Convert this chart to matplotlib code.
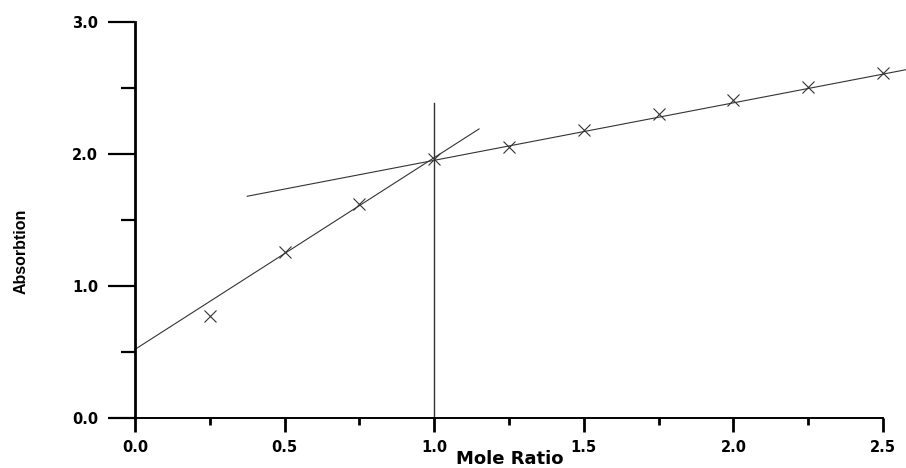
import numpy as np
from matplotlib import pyplot as plt

# Measured points (mole ratio vs absorbtion)
mole_ratio = [0.25, 0.5, 0.75, 1.0, 1.25, 1.5, 1.75, 2.0, 2.25, 2.5]
absorb = [0.77, 1.26, 1.62, 1.96, 2.05, 2.18, 2.30, 2.41, 2.51, 2.61]

# Hand-drawn fit lines (end points)
line1_x = [0.0, 1.15]
line1_y = [0.52, 2.19]
line2_x = [0.375, 2.58]
line2_y = [1.68, 2.64]
# Vertical line at the break point
vline_x = [1.0, 1.0]
vline_y = [0.0, 2.39]

xticks = [0.0, 0.5, 1.0, 1.5, 2.0, 2.5]
yticks = [0.0, 1.0, 2.0, 3.0]

fig = plt.figure(figsize=(9.06, 4.68), dpi=100)
ax = fig.add_axes([0.149, 0.1068, 0.8256, 0.8462])

lc = '#333333'
ax.plot(line1_x, line1_y, color=lc, lw=0.8, clip_on=False)
ax.plot(line2_x, line2_y, color=lc, lw=0.8, clip_on=False)
ax.plot(vline_x, vline_y, color=lc, lw=1.0, clip_on=False)
ax.plot(mole_ratio, absorb, ls='none', marker='x', ms=8, mew=0.8, color=lc, clip_on=False)

ax.set_xlim(0, 2.5)
ax.set_ylim(0, 3.0)
for s in ['top', 'right']:
    ax.spines[s].set_visible(False)
ax.spines['left'].set_linewidth(2.0)
ax.spines['bottom'].set_linewidth(1.4)

ax.set_xticks(xticks)
ax.set_xticks(np.arange(0.25, 2.5, 0.5), minor=True)
ax.set_yticks(yticks)
ax.set_yticks([0.5, 1.5, 2.5], minor=True)
ax.set_xticklabels(['%.1f' % v for v in xticks])
ax.set_yticklabels(['%.1f' % v for v in yticks])

ax.tick_params(axis='x', which='major', direction='out', length=10, width=2.0, pad=6)
ax.tick_params(axis='x', which='minor', direction='out', length=5, width=2.0)
ax.tick_params(axis='y', which='major', direction='out', length=19.5, width=1.6, pad=7)
ax.tick_params(axis='y', which='minor', direction='out', length=10, width=1.6)
for lab in ax.get_xticklabels() + ax.get_yticklabels():
    lab.set_fontweight('bold')
    lab.set_fontsize(10.5)

fig.text(0.563, 0.0, 'Mole Ratio', ha='center', va='bottom',
         fontsize=13, fontweight='bold', family='DejaVu Sans')
fig.text(0.023, 0.464, 'Absorbtion', ha='center', va='center', rotation=90,
         fontsize=11.5, fontweight='bold', family=['Liberation Sans Narrow', 'Liberation Sans', 'DejaVu Sans'])

plt.savefig('out.png', dpi=100)
